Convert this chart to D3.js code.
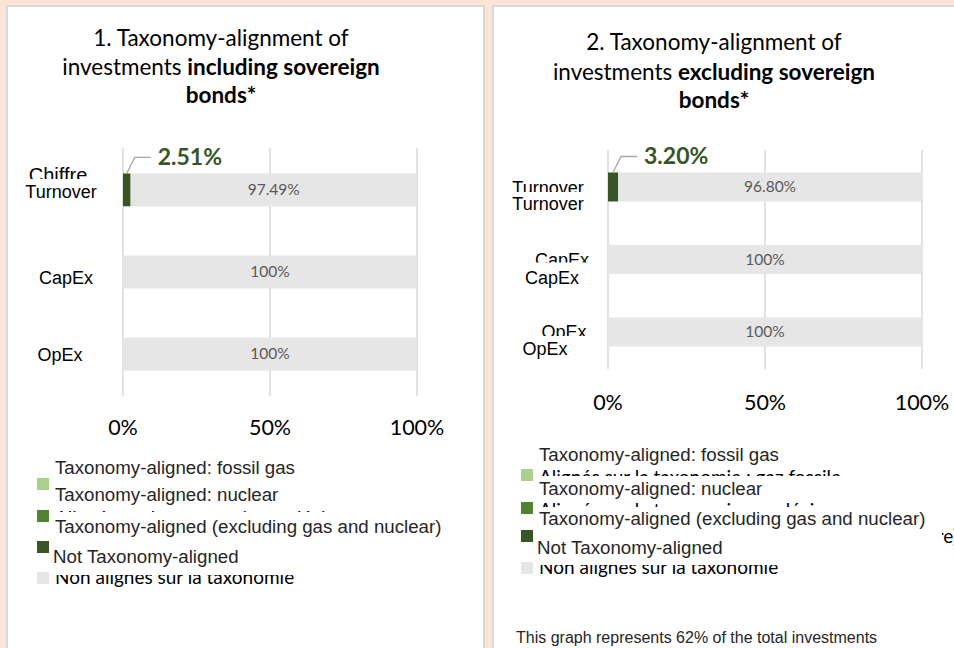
<!DOCTYPE html>
<html>
<head>
<meta charset="utf-8">
<script src="https://cdn.jsdelivr.net/npm/d3@7"></script>
<style>
  body { margin: 0; background: #fce4d6; }
  svg { display: block; }
</style>
</head>
<body>
<div id="chart"></div>
<script>
// values
const categories = ["Turnover", "CapEx", "OpEx"];
const alignedIncl = [2.51, 0, 0];
const notAlignedIncl = [97.49, 100, 100];
const alignedExcl = [3.20, 0, 0];
const notAlignedExcl = [96.80, 100, 100];
const tickValues = [0, 50, 100];
const legendLabels = [
    "Taxonomy-aligned: fossil gas",
    "Taxonomy-aligned: nuclear",
    "Taxonomy-aligned (excluding gas and nuclear)",
    "Not Taxonomy-aligned"
];
const legendColors = ["#a9d18e", "#548235", "#375623", "#e7e6e6"];
const footnote = "This graph represents 62% of the total investments";

const W = 954, H = 648;
const calibri = "Lato, 'Open Sans', sans-serif";
const arial = "'Liberation Sans', Arial, sans-serif";

const svg = d3.select("#chart").append("svg")
    .attr("width", W)
    .attr("height", H);

const defs = svg.append("defs");
let clipId = 0;

// text shown only between top and bottom (the pdf has labels lying on top of each other)
function clippedText(g, x, y, txt, top, bottom, opts = {}) {
    const id = `clip${clipId++}`;
    defs.append("clipPath").attr("id", id)
        .append("rect")
        .attr("x", opts.left !== undefined ? opts.left : x - 300)
        .attr("y", top)
        .attr("width", 700)
        .attr("height", bottom - top);
    return g.append("text")
        .attr("x", x)
        .attr("y", y)
        .attr("clip-path", `url(#${id})`)
        .attr("text-anchor", opts.anchor || "start")
        .attr("font-family", opts.font || arial)
        .attr("font-size", opts.size || "18px")
        .attr("fill", opts.fill || "#000")
        .text(txt);
}

svg.append("rect").attr("width", W).attr("height", H).attr("fill", "#fce4d6");

function drawPanel(p) {
    const g = svg.append("g");

    g.append("rect")
        .attr("x", p.box[0]).attr("y", p.box[1])
        .attr("width", p.box[2]).attr("height", p.box[3])
        .attr("fill", "#fff")
        .attr("stroke", "#d9d9d9")
        .attr("stroke-width", 2);

    // title
    const title = g.append("text")
        .attr("text-anchor", "middle")
        .attr("font-family", calibri)
        .attr("font-size", "22.5px")
        .attr("fill", "#000");
    title.append("tspan").attr("x", p.titleX).attr("y", p.titleY[0]).text(p.title[0]);
    const l2 = title.append("tspan").attr("x", p.titleX).attr("y", p.titleY[1]);
    l2.append("tspan").text("investments ");
    l2.append("tspan").attr("font-weight", "bold").text(p.title[1]);
    title.append("tspan").attr("x", p.titleX).attr("y", p.titleY[2])
        .attr("font-weight", "bold").text("bonds*");

    const x = d3.scaleLinear().domain([0, 100]).range(p.xRange);
    const y = d3.scaleBand().domain(categories).range(p.yRange)
        .paddingInner(0.6).paddingOuter(0.31);

    g.selectAll(".grid")
        .data(tickValues)
        .join("line")
        .attr("x1", d => x(d)).attr("x2", d => x(d))
        .attr("y1", p.yRange[0]).attr("y2", p.yRange[1])
        .attr("stroke", "#d9d9d9")
        .attr("stroke-width", 1.5);

    const rows = categories.map((c, i) => ({ cat: c, a: p.aligned[i], n: p.notAligned[i] }));

    g.selectAll(".na")
        .data(rows)
        .join("rect")
        .attr("x", d => x(d.a))
        .attr("y", d => y(d.cat))
        .attr("width", d => x(d.a + d.n) - x(d.a))
        .attr("height", y.bandwidth())
        .attr("fill", "#e7e6e6");

    g.selectAll(".al")
        .data(rows.filter(d => d.a > 0))
        .join("rect")
        .attr("x", x(0))
        .attr("y", d => y(d.cat))
        .attr("width", d => x(d.a) - x(0))
        .attr("height", y.bandwidth())
        .attr("fill", "#375623");

    g.selectAll(".nalab")
        .data(rows)
        .join("text")
        .attr("x", d => (x(d.a) + x(d.a + d.n)) / 2)
        .attr("y", d => y(d.cat) + y.bandwidth() / 2 + 5)
        .attr("text-anchor", "middle")
        .attr("font-family", calibri)
        .attr("font-size", "15.5px")
        .attr("fill", "#595959")
        .text(d => d.a > 0 ? d.n.toFixed(2) + "%" : d.n + "%");

    // callout for the aligned share
    rows.filter(d => d.a > 0).forEach(d => {
        const x0 = x(d.a / 2), top = y(d.cat);
        g.append("path")
            .attr("d", `M${x0},${top} L${x0 + 8},${top - 16} H${x0 + 24}`)
            .attr("fill", "none")
            .attr("stroke", "#a6a6a6")
            .attr("stroke-width", 1.3);
        g.append("text")
            .attr("x", x0 + 31)
            .attr("y", top - 8)
            .attr("font-family", calibri)
            .attr("font-size", "23px")
            .attr("font-weight", "bold")
            .attr("fill", "#375623")
            .text(d.a.toFixed(2) + "%");
    });

    g.selectAll(".tick")
        .data(tickValues)
        .join("text")
        .attr("x", d => x(d))
        .attr("y", p.tickY)
        .attr("text-anchor", "middle")
        .attr("font-family", calibri)
        .attr("font-size", "21.5px")
        .attr("fill", "#000")
        .text(d => d + "%");

    // category labels
    categories.forEach((c, i) => {
        const cy = y(c) + y.bandwidth() / 2;
        const gh = p.catGhost[i];
        if (gh) {
            clippedText(g, p.catX[i] + gh.dx, cy + gh.dy, gh.text,
                cy + gh.dy - 20, cy + gh.dy - gh.cut,
                { anchor: "middle", size: gh.size || "18px" });
        }
        g.append("text")
            .attr("x", p.catX[i])
            .attr("y", cy + p.catDy[i])
            .attr("text-anchor", "middle")
            .attr("font-family", arial)
            .attr("font-size", "18px")
            .attr("fill", "#000")
            .text(c);
    });

    // legend
    const lg = g.append("g").attr("transform", `translate(${p.legend},0)`);
    p.ghosts.forEach(gh => {
        clippedText(lg, 18, gh.y, gh.text, gh.top, gh.bottom,
            { font: calibri, size: "19px", fill: "#000" });
    });
    legendColors.forEach((c, i) => {
        lg.append("rect")
            .attr("x", 0)
            .attr("y", p.swatchY[i])
            .attr("width", 12)
            .attr("height", 12)
            .attr("fill", c);
    });
    legendLabels.forEach((t, i) => {
        lg.append("text")
            .attr("x", i === 3 ? 16 : 18)
            .attr("y", p.labelY[i])
            .attr("font-family", arial)
            .attr("font-size", "18.7px")
            .attr("fill", "#262626")
            .text(t);
    });
    return g;
}

drawPanel({
    box: [7, 6, 477, 660],
    title: ["1. Taxonomy-alignment of", "including sovereign"],
    titleX: 221, titleY: [46, 75, 103],
    xRange: [123, 417], yRange: [148, 396],
    aligned: alignedIncl, notAligned: notAlignedIncl,
    tickY: 435,
    catX: [61, 66, 60], catDy: [8, 12, 7],
    catGhost: [{ text: "Chiffre", dx: -3, dy: -8, cut: 3, size: "20px" }],
    legend: 37,
    swatchY: [478, 510, 541, 572],
    labelY: [474, 501, 533, 563],
    ghosts: [
        { y: 525, text: "Alignés sur la taxonomie: nucléaire", top: 508, bottom: 512 },
        { y: 584, text: "Non alignés sur la taxonomie", top: 575, bottom: 592 }
    ]
});

drawPanel({
    box: [493, 6, 480, 660],
    title: ["2. Taxonomy-alignment of", "excluding sovereign"],
    titleX: 714, titleY: [50, 80, 108],
    xRange: [608, 922], yRange: [150, 369],
    aligned: alignedExcl, notAligned: notAlignedExcl,
    tickY: 410,
    catX: [548, 552, 545], catDy: [23, 24, 23],
    catGhost: [
        { text: "Turnover", dx: 0, dy: 7, cut: 2 },
        { text: "CapEx", dx: 10, dy: 6, cut: 3 },
        { text: "OpEx", dx: 19, dy: 6, cut: 2 }
    ],
    legend: 521,
    swatchY: [469, 502, 530, 562],
    labelY: [461, 495, 525, 554],
    ghosts: [
        { y: 484, text: "Alignés sur la taxonomie : gaz fossile", top: 469, bottom: 476 },
        { y: 517, text: "Alignés sur la taxonomie : nucléaire", top: 502, bottom: 507 },
        { y: 574, text: "Non alignés sur la taxonomie", top: 565, bottom: 590 }
    ]
});

// fragment of a hidden label sticking out at the right edge
clippedText(svg, 958, 543, "nucléaire)", 525, 550, { anchor: "end", left: 942, font: calibri, size: "19px" });

svg.append("text")
    .attr("x", 516)
    .attr("y", 643)
    .attr("font-family", arial)
    .attr("font-size", "16px")
    .attr("fill", "#262626")
    .text(footnote);
</script>
</body>
</html>
